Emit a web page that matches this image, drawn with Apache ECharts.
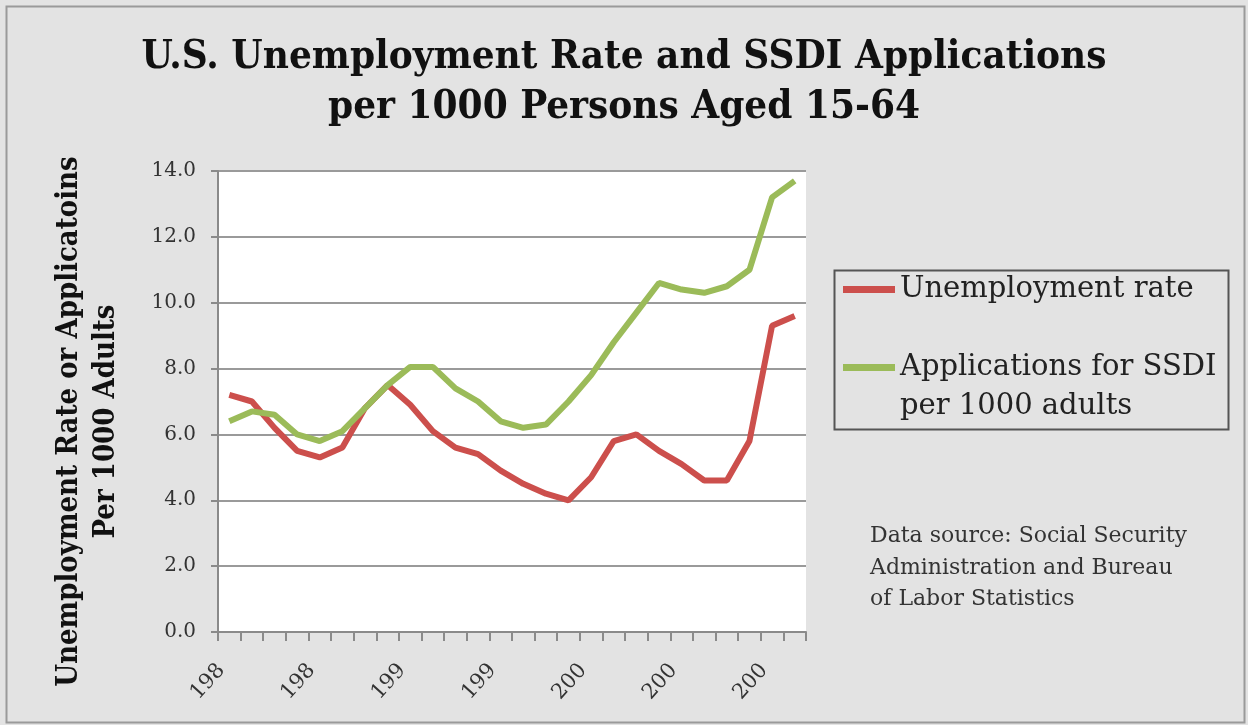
<!DOCTYPE html>
<html>
<head>
<meta charset="utf-8">
<script src="https://cdn.jsdelivr.net/npm/echarts@6/dist/echarts.min.js"></script>
<style>html,body{margin:0;padding:0;background:#e3e3e3}#c{width:1248px;height:725px}</style>
</head>
<body>
<div id="c"></div>
<script>
const years = ['1985','1986','1987','1988','1989','1990','1991','1992','1993','1994','1995','1996','1997','1998','1999','2000','2001','2002','2003','2004','2005','2006','2007','2008','2009','2010'];
const unemployment = [7.2,7.0,6.2,5.5,5.3,5.6,6.8,7.5,6.9,6.1,5.6,5.4,4.9,4.5,4.2,4.0,4.7,5.8,6.0,5.5,5.1,4.6,4.6,5.8,9.3,9.6];
const ssdiApps = [6.4,6.7,6.6,6.0,5.8,6.1,6.8,7.5,8.05,8.05,7.4,7.0,6.4,6.2,6.3,7.0,7.8,8.8,9.7,10.6,10.4,10.3,10.5,11.0,13.2,13.7];
const seriesNames = ['Unemployment rate','Applications for SSDI\nper 1000 adults'];
const titleText = 'U.S. Unemployment Rate and SSDI Applications\nper 1000 Persons Aged 15-64';
const yAxisTitle = 'Unemployment Rate or Applicatoins\nPer 1000 Adults';
const sourceText = 'Data source: Social Security\nAdministration and Bureau\nof Labor Statistics';

const chart = echarts.init(document.getElementById('c'), null, {renderer:'canvas'});
const serif = '"DejaVu Serif","Liberation Serif",serif';
const cond = '"DejaVu Serif Condensed","Liberation Sans",sans-serif';
chart.setOption({
  backgroundColor: '#e3e3e3',
  animation: false,
  title: [{
    text: titleText,
    left: 'center', top: 28,
    textStyle: {fontFamily: cond, fontWeight: 'bold', fontSize: 40, lineHeight: 50, color: '#111'}
  },{
    text: sourceText,
    left: 870, top: 521, padding: 0,
    textStyle: {fontFamily: serif, fontWeight: 'normal', fontSize: 22, lineHeight: 31.5, color: '#333'}
  }],
  graphic: [
    {type:'rect', left: 4, top: 4, shape:{width:1238, height:716}, style:{fill:'none', stroke:'#9a9a9a', lineWidth:2}, z: -1},
    {type:'rect', left: 832, top: 268, shape:{width:394, height:159}, style:{fill:'none', stroke:'#555', lineWidth:2}, z: 10}
  ],
  legend: {
    orient: 'vertical',
    left: 843, top: 267, padding: 0,
    itemWidth: 52, itemHeight: 7, itemGap: -6,
    icon: 'rect',
    textStyle: {fontFamily: serif, fontSize: 29, lineHeight: 39, color: '#222', padding: [6, 0, 0, 0]},
    formatter: name => name === seriesNames[1] ? '\n' + name : name,
    data: seriesNames
  },
  grid: {left: 218, right: 442, top: 171, bottom: 93, show: true, backgroundColor: '#ffffff', borderWidth: 0},
  xAxis: {
    type: 'category',
    data: years,
    boundaryGap: true,
    axisLine: {show: true, lineStyle: {color: '#8a8a8a', width: 2}},
    axisTick: {show: true, interval: 0, length: 9, lineStyle: {color: '#8a8a8a', width: 2}},
    axisLabel: {interval: 3, rotate: 48, margin: 26, padding: [0, 12, 0, 0], fontFamily: serif, fontSize: 21, color: '#333',
      formatter: v => v.slice(0,3)},
    splitLine: {show: false}
  },
  yAxis: {
    type: 'value', min: 0, max: 14, interval: 2,
    name: yAxisTitle, nameLocation: 'middle', nameGap: 93, nameRotate: 90,
    nameTextStyle: {fontFamily: cond, fontWeight: 'bold', fontSize: 29, lineHeight: 37, color: '#111', padding: [0, 40, 0, 0]},
    axisLine: {show: true, lineStyle: {color: '#8a8a8a', width: 2}},
    axisTick: {show: true, length: 7, lineStyle: {color: '#8a8a8a', width: 2}},
    axisLabel: {margin: 22, fontFamily: serif, fontSize: 20, color: '#333', formatter: v => v.toFixed(1)},
    splitLine: {show: true, lineStyle: {color: '#9a9a9a', width: 2}}
  },
  series: [
    {name: seriesNames[0], type: 'line', data: unemployment, symbol: 'none', smooth: false,
     lineStyle: {color: '#cc4f4c', width: 6}, itemStyle: {color: '#cc4f4c'}},
    {name: seriesNames[1], type: 'line', data: ssdiApps, symbol: 'none', smooth: false,
     lineStyle: {color: '#9bbb59', width: 6}, itemStyle: {color: '#9bbb59'}}
  ]
});
</script>
</body>
</html>
